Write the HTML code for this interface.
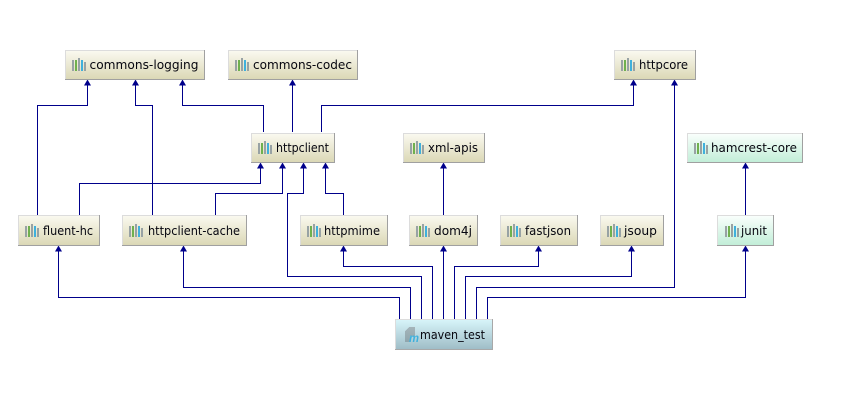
<!DOCTYPE html>
<html><head><meta charset="utf-8"><style>
html,body{margin:0;padding:0;background:#fff;width:843px;height:414px;overflow:hidden}
svg{display:block}
text{font-family:"DejaVu Sans","Liberation Sans",sans-serif;font-size:12.5px;fill:#06060f}
.l{fill:none;stroke:#00008b;stroke-width:1;shape-rendering:crispEdges}
.h{fill:#00008b}
</style></head><body>
<svg width="843" height="414" viewBox="0 0 843 414" xmlns="http://www.w3.org/2000/svg">
<defs>
<linearGradient id="b" x1="0" y1="0" x2="0" y2="1"><stop offset="0" stop-color="#fbfaf1"/><stop offset="1" stop-color="#dbd8b6"/></linearGradient>
<linearGradient id="g" x1="0" y1="0" x2="0" y2="1"><stop offset="0" stop-color="#fbfffd"/><stop offset="1" stop-color="#c2eed8"/></linearGradient>
<linearGradient id="c" x1="0" y1="0" x2="0" y2="1"><stop offset="0" stop-color="#d9f6fb"/><stop offset="1" stop-color="#9fbdc7"/></linearGradient>
<linearGradient id="d" x1="0" y1="0" x2="0" y2="1"><stop offset="0" stop-color="#a5b5ba"/><stop offset="1" stop-color="#8fa6ad"/></linearGradient>
<g id="ic"><rect x="0" y="2" width="2" height="11" fill="#98a2a4"/><rect x="3" y="2" width="2" height="11" fill="#6fb04e"/><rect x="6" y="0" width="2" height="13" fill="#98a2a4"/><rect x="9" y="2" width="2" height="11" fill="#3fb0dc"/><rect x="12" y="4" width="2" height="9" fill="#98a2a4"/></g>
<path id="a" d="M0 0L3.5 6H-3.5Z"/>
</defs>

<g class="l">
<path d="M37.5 215V105.5H87.5V82"/>
<path d="M152.5 215V105.5H135.5V82"/>
<path d="M263.5 132V105.5H182.5V82"/>
<path d="M292.5 132V82"/>
<path d="M321.5 132V105.5H633.5V82"/>
<path d="M79.5 215V183.5H260.5V165"/>
<path d="M215.5 215V193.5H282.5V165"/>
<path d="M343.5 215V193.5H325.5V165"/>
<path d="M443.5 215V165"/>
<path d="M745.5 215V165"/>
<path d="M399.5 319V297.5H58.5V248"/>
<path d="M410.5 319V287.5H183.5V248"/>
<path d="M421.5 319V276.5H287.5V193.5H303.5V165"/>
<path d="M432.5 319V266.5H343.5V248"/>
<path d="M443.5 319V248"/>
<path d="M454.5 319V266.5H538.5V248"/>
<path d="M465.5 319V276.5H631.5V248"/>
<path d="M476.5 319V287.5H674.5V82"/>
<path d="M487.5 319V297.5H745.5V248"/>
</g>
<g class="h">
<use href="#a" x="87.5" y="79.5"/><use href="#a" x="135.5" y="79.5"/><use href="#a" x="182.5" y="79.5"/><use href="#a" x="292.5" y="79.5"/><use href="#a" x="633.5" y="79.5"/><use href="#a" x="674.5" y="79.5"/>
<use href="#a" x="260.5" y="162.5"/><use href="#a" x="282.5" y="162.5"/><use href="#a" x="303.5" y="162.5"/><use href="#a" x="325.5" y="162.5"/><use href="#a" x="443.5" y="162.5"/><use href="#a" x="745.5" y="162.5"/>
<use href="#a" x="58.5" y="245.5"/><use href="#a" x="183.5" y="245.5"/><use href="#a" x="343.5" y="245.5"/><use href="#a" x="443.5" y="245.5"/><use href="#a" x="538.5" y="245.5"/><use href="#a" x="631.5" y="245.5"/><use href="#a" x="745.5" y="245.5"/>
</g>

<!-- nodes -->
<g shape-rendering="crispEdges">
<rect x="65" y="50" width="140" height="29" fill="url(#b)"/><path d="M65.5 79V50.5H204" fill="none" stroke="#dcdcdc"/><path d="M204.5 50V79.5H65" fill="none" stroke="#a0a0a0"/>
<rect x="228" y="50" width="130" height="29" fill="url(#b)"/><path d="M228.5 79V50.5H357" fill="none" stroke="#dcdcdc"/><path d="M357.5 50V79.5H228" fill="none" stroke="#a0a0a0"/>
<rect x="614" y="50" width="82" height="29" fill="url(#b)"/><path d="M614.5 79V50.5H695" fill="none" stroke="#dcdcdc"/><path d="M695.5 50V79.5H614" fill="none" stroke="#a0a0a0"/>
<rect x="251" y="133" width="84" height="29" fill="url(#b)"/><path d="M251.5 162V133.5H334" fill="none" stroke="#dcdcdc"/><path d="M334.5 133V162.5H251" fill="none" stroke="#a0a0a0"/>
<rect x="403" y="133" width="82" height="29" fill="url(#b)"/><path d="M403.5 162V133.5H484" fill="none" stroke="#dcdcdc"/><path d="M484.5 133V162.5H403" fill="none" stroke="#a0a0a0"/>
<rect x="687" y="133" width="116" height="29" fill="url(#g)"/><path d="M687.5 162V133.5H802" fill="none" stroke="#dcdcdc"/><path d="M802.5 133V162.5H687" fill="none" stroke="#a0a0a0"/>
<rect x="18" y="215" width="82" height="30" fill="url(#b)"/><path d="M18.5 245V215.5H99" fill="none" stroke="#dcdcdc"/><path d="M99.5 215V245.5H18" fill="none" stroke="#a0a0a0"/>
<rect x="122" y="215" width="125" height="30" fill="url(#b)"/><path d="M122.5 245V215.5H246" fill="none" stroke="#dcdcdc"/><path d="M246.5 215V245.5H122" fill="none" stroke="#a0a0a0"/>
<rect x="300" y="215" width="88" height="30" fill="url(#b)"/><path d="M300.5 245V215.5H387" fill="none" stroke="#dcdcdc"/><path d="M387.5 215V245.5H300" fill="none" stroke="#a0a0a0"/>
<rect x="409" y="215" width="69" height="30" fill="url(#b)"/><path d="M409.5 245V215.5H477" fill="none" stroke="#dcdcdc"/><path d="M477.5 215V245.5H409" fill="none" stroke="#a0a0a0"/>
<rect x="500" y="215" width="78" height="30" fill="url(#b)"/><path d="M500.5 245V215.5H577" fill="none" stroke="#dcdcdc"/><path d="M577.5 215V245.5H500" fill="none" stroke="#a0a0a0"/>
<rect x="600" y="215" width="64" height="30" fill="url(#b)"/><path d="M600.5 245V215.5H663" fill="none" stroke="#dcdcdc"/><path d="M663.5 215V245.5H600" fill="none" stroke="#a0a0a0"/>
<rect x="717" y="215" width="57" height="30" fill="url(#g)"/><path d="M717.5 245V215.5H773" fill="none" stroke="#dcdcdc"/><path d="M773.5 215V245.5H717" fill="none" stroke="#a0a0a0"/>
<rect x="395" y="319" width="98" height="30" fill="url(#c)"/><path d="M395.5 349V319.5H492" fill="none" stroke="#dcdcdc"/><path d="M492.5 319V349.5H395" fill="none" stroke="#a8a8a8"/>
<use href="#ic" x="72" y="58"/><use href="#ic" x="235" y="58"/><use href="#ic" x="621" y="58"/>
<use href="#ic" x="258" y="141"/><use href="#ic" x="410" y="141"/><use href="#ic" x="694" y="141"/>
<use href="#ic" x="25" y="224"/><use href="#ic" x="129" y="224"/><use href="#ic" x="307" y="224"/><use href="#ic" x="416" y="224"/><use href="#ic" x="507" y="224"/><use href="#ic" x="607" y="224"/><use href="#ic" x="725" y="224"/>
<path d="M405 331L409 327H415V336H410V342H405Z" fill="url(#d)"/>
</g>
<text x="409" y="342" style="font-size:12px;font-style:italic;font-weight:bold;fill:#3fb0dc;font-family:'Liberation Sans',sans-serif" textLength="10" lengthAdjust="spacingAndGlyphs">m</text>

<g>
<text x="89.5" y="69" textLength="109" lengthAdjust="spacingAndGlyphs">commons-logging</text>
<text x="253" y="69" textLength="99" lengthAdjust="spacingAndGlyphs">commons-codec</text>
<text x="639" y="69" textLength="49" lengthAdjust="spacingAndGlyphs">httpcore</text>
<text x="276" y="152" textLength="53" lengthAdjust="spacingAndGlyphs">httpclient</text>
<text x="428" y="152" textLength="50" lengthAdjust="spacingAndGlyphs">xml-apis</text>
<text x="711" y="152" textLength="86" lengthAdjust="spacingAndGlyphs">hamcrest-core</text>
<text x="43" y="235" textLength="50" lengthAdjust="spacingAndGlyphs">fluent-hc</text>
<text x="148" y="235" textLength="92" lengthAdjust="spacingAndGlyphs">httpclient-cache</text>
<text x="324" y="235" textLength="56" lengthAdjust="spacingAndGlyphs">httpmime</text>
<text x="434" y="235" textLength="38" lengthAdjust="spacingAndGlyphs">dom4j</text>
<text x="525" y="235" textLength="46" lengthAdjust="spacingAndGlyphs">fastjson</text>
<text x="624" y="235" textLength="33" lengthAdjust="spacingAndGlyphs">jsoup</text>
<text x="741" y="235" textLength="26" lengthAdjust="spacingAndGlyphs">junit</text>
<text x="420" y="339" textLength="65" lengthAdjust="spacingAndGlyphs">maven_test</text>
</g>
</svg>
</body></html>
